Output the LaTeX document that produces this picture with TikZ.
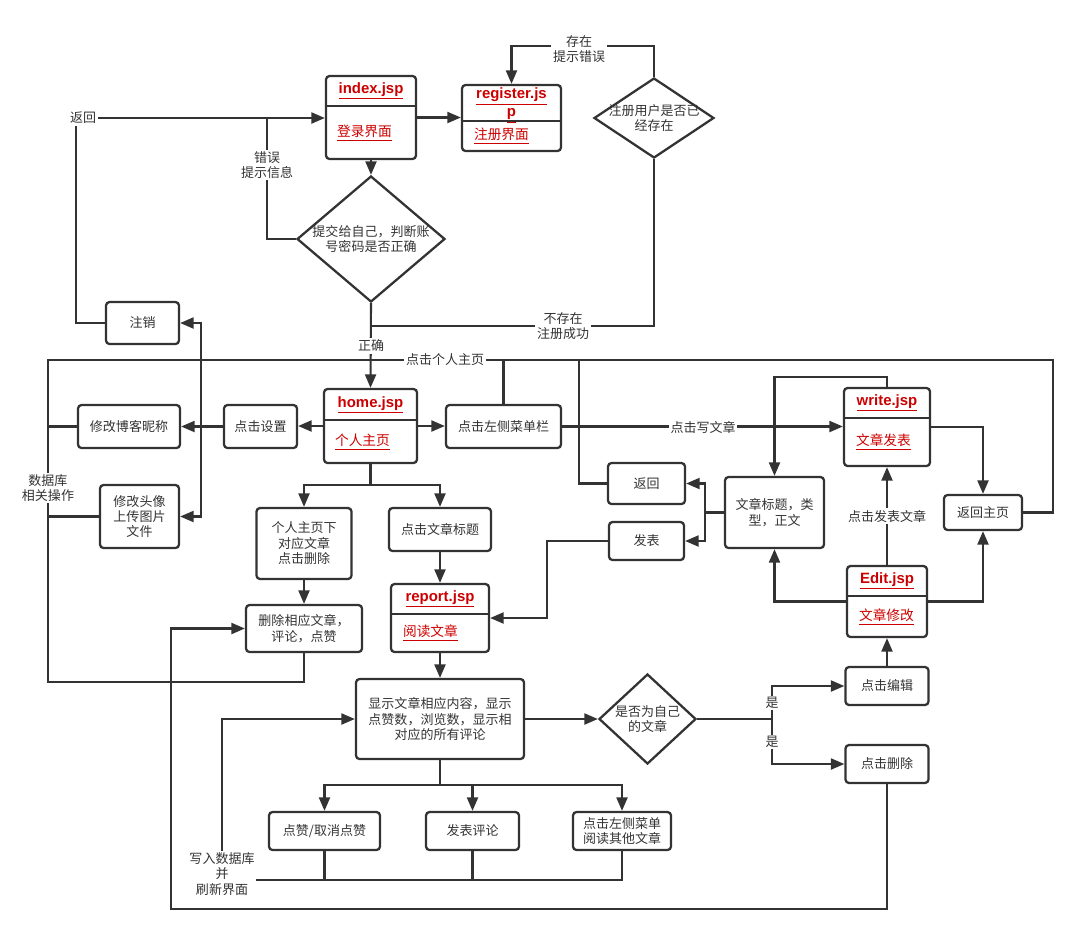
\documentclass[tikz,border=0pt]{standalone}
\usepackage{fontspec}
\setmainfont{Noto Sans CJK SC}
\newfontfamily\jspfont{Liberation Sans}
\usetikzlibrary{arrows.meta,shapes.geometric}
\definecolor{lc}{HTML}{333333}
\definecolor{jred}{HTML}{CC0000}
\tikzset{
  box/.style={draw,line width=1.3pt,rounded corners=2pt,align=center,inner sep=1pt},
  sz/.style 2 args={minimum width=#1*0.02cm,minimum height=#2*0.02cm},
  dia/.style={draw,line width=1.3pt,diamond,inner sep=0pt},
  lbl/.style={fill=white,inner sep=1pt,align=center},
  jsp/.style={text=jred,font=\jspfont\fontsize{8.5}{10.5}\selectfont\bfseries,align=center},
  sub/.style={text=jred,anchor=west,inner sep=0pt,font=\fontsize{7.8}{9}\selectfont},
  arr/.style={-{Triangle[length=2.7mm,width=2.2mm]}}
}

\begin{document}
\begin{tikzpicture}[x=0.02cm,y=-0.02cm,color=lc,line width=1.2pt,
  font=\fontsize{7.4}{8.8}\selectfont]
  \useasboundingbox (0,0) rectangle (1085,941);

  % jsp pages
  \node[box,sz={90}{83}] (idx) at (371,117.5) {};
  \draw[line width=1.3pt] (idx.west |- 0,106) -- (idx.east |- 0,106);
  \node[jsp] (idxt) at (371,91) {\underline{index.jsp}};
  \node[sub] (idxs) at (336,133) {\underline{登录界面}};

  \node[box,sz={99}{66}] (reg) at (511.5,118) {};
  \draw[line width=1.3pt] (reg.west |- 0,121) -- (reg.east |- 0,121);
  \node[jsp] (regt) at (511.5,105.5) {\underline{register.js}\\\underline{p}};
  \node[sub] (regs) at (473,136) {\underline{注册界面}};

  \node[box,sz={93}{74}] (home) at (370.5,426) {};
  \draw[line width=1.3pt] (home.west |- 0,420) -- (home.east |- 0,420);
  \node[jsp] (homet) at (370.5,405) {\underline{home.jsp}};
  \node[sub] (homes) at (334,442) {\underline{个人主页}};

  \node[box,sz={98}{68}] (report) at (440,618) {};
  \draw[line width=1.3pt] (report.west |- 0,614) -- (report.east |- 0,614);
  \node[jsp] (reportt) at (440,599) {\underline{report.jsp}};
  \node[sub] (reports) at (402,633) {\underline{阅读文章}};

  \node[box,sz={86}{78}] (write) at (887,427) {};
  \draw[line width=1.3pt] (write.west |- 0,418) -- (write.east |- 0,418);
  \node[jsp] (writet) at (887,403) {\underline{write.jsp}};
  \node[sub] (writes) at (855,442) {\underline{文章发表}};

  \node[box,sz={80}{71}] (edit) at (887,601.5) {};
  \draw[line width=1.3pt] (edit.west |- 0,596) -- (edit.east |- 0,596);
  \node[jsp] (editt) at (887,581) {\underline{Edit.jsp}};
  \node[sub] (edits) at (858,617) {\underline{文章修改}};

  % decisions
  \node[dia,sz={148}{126}] (login) at (371,239) {};
  \node[align=center] (logint) at (login) {提交给自己，判断账\\号密码是否正确};
  \node[dia,sz={120}{80}] (regchk) at (654,118) {};
  \node[align=center] (regchkt) at (regchk) {注册用户是否已\\经存在};
  \node[dia,sz={97}{90}] (own) at (647.5,719) {};
  \node[align=center] (ownt) at (own) {是否为自己\\的文章};

  % steps
  \node[box,sz={73}{42}] (logout) at (142.5,323) {注销};
  \node[box,sz={102}{43}] (nick) at (129,426.5) {修改博客昵称};
  \node[box,sz={73}{43}] (setting) at (260.5,426.5) {点击设置};
  \node[box,sz={79}{63}] (avatar) at (139.5,516.5) {修改头像\\上传图片\\文件};
  \node[box,sz={115}{43}] (menu) at (503.5,426.5) {点击左侧菜单栏};
  \node[box,sz={95}{71}] (homedel) at (304,543.5) {个人主页下\\对应文章\\点击删除};
  \node[box,sz={102}{43}] (clktitle) at (440,529.5) {点击文章标题};
  \node[box,sz={116}{47}] (delart) at (304,628.5) {删除相应文章，\\评论，点赞};
  \node[box,sz={168}{80}] (show) at (440,719) {显示文章相应内容，显示\\点赞数，浏览数，显示相\\对应的所有评论};
  \node[box,sz={83}{38}] (clkedit) at (887,686) {点击编辑};
  \node[box,sz={83}{38}] (clkdel) at (887,764) {点击删除};
  \node[box,sz={111}{38}] (like) at (324.5,831) {点赞/取消点赞};
  \node[box,sz={93}{38}] (comment) at (472.5,831) {发表评论};
  \node[box,sz={98}{38}] (other) at (622,831) {点击左侧菜单\\阅读其他文章};
  \node[box,sz={77}{41}] (back) at (646.5,483.5) {返回};
  \node[box,sz={75}{38}] (publish) at (646.5,541) {发表};
  \node[box,sz={99}{71}] (artinfo) at (774.5,512.5) {文章标题，类\\型，正文};
  \node[box,sz={78}{35}] (backhome) at (983,512.5) {返回主页};

  \coordinate (okj) at (371,326);
  \coordinate (errj) at (267,118);
  \coordinate (backc) at (76,118);
  \coordinate (setj) at (201,426.5);
  \coordinate (dbt) at (48,360);
  \coordinate (dbb) at (48,682);
  \coordinate (trc) at (1053,360);
  \coordinate (backj) at (579,360);
  \coordinate (aj) at (705,512.5);
  \coordinate (hj) at (370.5,485);
  \coordinate (ownj) at (772,719);
  \coordinate (retc) at (171,909);
  \coordinate (sj) at (440,785);
  \coordinate (wj) at (222,880);

  % login / register
  \draw[arr] (idx) -- (login);
  \draw[arr] (idx.east) -- (reg.west |- idx.east);
  \draw[arr] (regchk.north) -- ++(0,-31) -| (reg.north);
  \draw (regchk.south) |- (okj);
  \draw[arr] (login.south) -- (home.north);
  \draw (login.west) -| (errj);
  \draw[arr] (logout.west) -| (backc) -- (idx.west |- backc);

  % settings
  \draw[arr] (home.west) -- (home.west -| setting.east);
  \draw[arr] (setting.west) -- (nick.east);
  \draw[arr] (setj) |- (logout.east);
  \draw[arr] (setj) |- (avatar.east);
  \draw (delart.south) |- (dbb) -- (dbt) -- (trc) |- (backhome.east);
  \draw (nick.west) -- (nick.west -| dbt);
  \draw (avatar.west) -- (avatar.west -| dbt);

  % menu / write / edit
  \draw[arr] (home.east) -- (home.east -| menu.west);
  \draw (menu.north) -- (menu.north |- dbt);
  \draw (back.west) -| (backj);
  \draw[arr] (menu.east) -- (menu.east -| write.west);
  \draw[arr] (write.north) -- ++(0,-10) -| (artinfo.north);
  \draw[arr] (write.east) -| (backhome.north);
  \draw (artinfo.west) -- (aj);
  \draw[arr] (aj) |- (back.east);
  \draw[arr] (aj) |- (publish.east);
  \draw[arr] (publish.west) -- ++(-61,0) |- (report.east);
  \draw[arr] (edit.north) -- (write.south);
  \draw[arr] (edit.west) -| (artinfo.south);
  \draw[arr] (edit.east) -| (backhome.south);
  \draw[arr] (clkedit.north) -- (edit.south);

  % articles
  \draw (home.south) -- (hj);
  \draw[arr] (hj) -| (homedel.north);
  \draw[arr] (hj) -| (clktitle.north);
  \draw[arr] (homedel) -- (delart);
  \draw[arr] (clktitle) -- (report);
  \draw[arr] (report) -- (show);
  \draw[arr] (show) -- (own);
  \draw (own.east) -- (ownj);
  \draw[arr] (ownj) |- (clkedit.west);
  \draw[arr] (ownj) |- (clkdel.west);
  \draw[arr] (clkdel.south) |- (retc) |- (delart.west);
  \draw (show.south) -- (sj);
  \draw[arr] (sj) -| (like.north);
  \draw[arr] (sj) -| (comment.north);
  \draw[arr] (sj) -| (other.north);
  \draw[arr] (other.south) |- (wj) |- (show.west);
  \draw (like.south) -- (like.south |- wj);
  \draw (comment.south) -- (comment.south |- wj);

  % labels
  \node[lbl] (l1) at (579,49) {存在\\提示错误};
  \node[lbl] (l2) at (563,326) {不存在\\注册成功};
  \node[lbl] (l3) at (267,165) {错误\\提示信息};
  \node[lbl] (l4) at (83,118) {返回};
  \node[lbl] (l5) at (371,346) {正确};
  \node[lbl] (l6) at (445,360) {点击个人主页};
  \node[lbl] (l7) at (703,427) {点击写文章};
  \node[lbl] (l8) at (887,516) {点击发表文章};
  \node[lbl] (l9) at (772,703) {是};
  \node[lbl] (l10) at (772,742) {是};
  \node[lbl] (l11) at (222,874) {写入数据库\\并\\刷新界面};
  \node[lbl] (l12) at (48,488) {数据库\\相关操作};
\end{tikzpicture}
\end{document}
